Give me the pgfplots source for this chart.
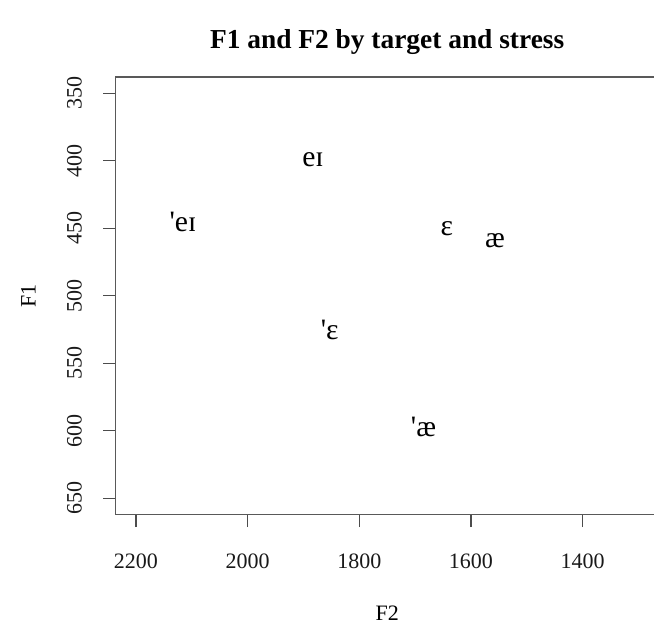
\documentclass[border=0pt]{standalone}
\usepackage{pgfplots}
\pgfplotsset{compat=1.18}
\usepackage{fontspec}
\setmainfont{Liberation Serif}
\begin{document}
\begin{tikzpicture}
\begin{axis}[
  at={(0,0)}, anchor=south west,
  scale only axis,
  width=271.3pt, height=218.75pt,
  x dir=reverse, y dir=reverse,
  xmin=1264, xmax=2236, ymin=338, ymax=662,
  xtick={2200,2000,1800,1600,1400},
  ytick={350,400,450,500,550,600,650},
  /pgf/number format/assume math mode=true,
  /pgf/number format/1000 sep={},
  tick align=outside,
  major tick length=6.25pt,
  xtick pos=bottom, ytick pos=left,
  axis line style={black!65, line width=0.6pt},
  every tick/.style={black!70, line width=0.6pt},
  ticklabel style={font=\fontsize{11}{13}\selectfont, text=black!90},
  xticklabel style={anchor=center, yshift=-17.25pt},
  yticklabel style={anchor=center, xshift=-14.45pt, rotate=90},
  xlabel={F2}, ylabel={F1},
  xlabel style={at={(0.5,-0.2263)}, anchor=center, font=\fontsize{11}{13}\selectfont},
  ylabel style={at={(-0.1611,0.5)}, anchor=center, font=\fontsize{11}{13}\selectfont},
  title={F1 and F2 by target and stress},
  every axis title/.style={at={(0.5,1.08)}, anchor=center, font=\bfseries\fontsize{13.7}{16}\selectfont},
]
\addplot[draw=none, mark=none, nodes near coords, point meta=explicit symbolic,
  nodes near coords style={anchor=center, inner sep=0pt, font=\fontsize{14.8}{17}\selectfont}]
  coordinates {
  (1883,399.4) [eɪ]
  (2116,445.7) [\textquotesingle eɪ]
  (1643,450.1) [ɛ]
  (1557,459.4) [æ]
  (1853,525.3) [\textquotesingle ɛ]
  (1685,596.8) [\textquotesingle æ]
  };
\end{axis}
\pgfresetboundingbox
\useasboundingbox (-57.95pt,-54.25pt) rectangle (269.05pt,257.25pt);
\end{tikzpicture}
\end{document}
